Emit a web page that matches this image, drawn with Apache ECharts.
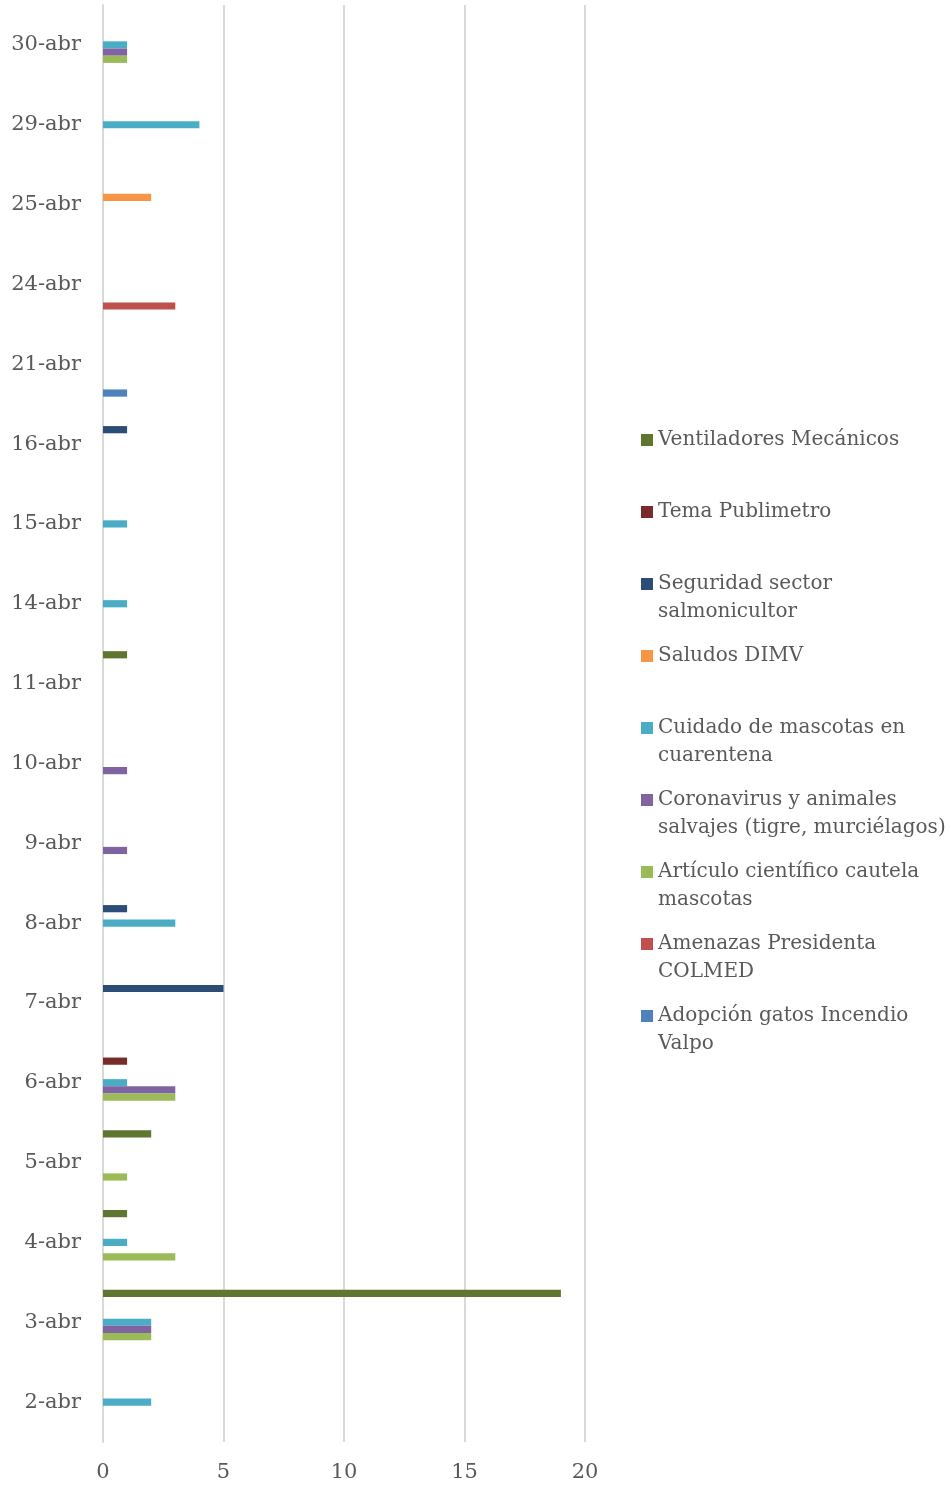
<!DOCTYPE html>
<html>
<head>
<meta charset="utf-8">
<script src="https://cdn.jsdelivr.net/npm/echarts@6/dist/echarts.min.js"></script>
<style>
  html, body { margin: 0; padding: 0; background: #fff; }
  #chart { width: 951px; height: 1485px; }
</style>
</head>
<body>
<div id="chart"></div>
<script>
  // categories bottom -> top
  var days = ['2-abr', '3-abr', '4-abr', '5-abr', '6-abr', '7-abr', '8-abr', '9-abr', '10-abr',
    '11-abr', '14-abr', '15-abr', '16-abr', '21-abr', '24-abr', '25-abr', '29-abr', '30-abr'];
  var xTicks = [0, 5, 10, 15, 20];

  var ventiladores = [0, 19, 1, 2, 0, 0, 0, 0, 0, 1, 0, 0, 0, 0, 0, 0, 0, 0];
  var publimetro   = [0, 0, 0, 0, 1, 0, 0, 0, 0, 0, 0, 0, 0, 0, 0, 0, 0, 0];
  var seguridad    = [0, 0, 0, 0, 0, 5, 1, 0, 0, 0, 0, 0, 1, 0, 0, 0, 0, 0];
  var saludos      = [0, 0, 0, 0, 0, 0, 0, 0, 0, 0, 0, 0, 0, 0, 0, 2, 0, 0];
  var mascotas     = [2, 2, 1, 0, 1, 0, 3, 0, 0, 0, 1, 1, 0, 0, 0, 0, 4, 1];
  var coronavirus  = [0, 2, 0, 0, 3, 0, 0, 1, 1, 0, 0, 0, 0, 0, 0, 0, 0, 1];
  var articulo     = [0, 2, 3, 1, 3, 0, 0, 0, 0, 0, 0, 0, 0, 0, 0, 0, 0, 1];
  var amenazas     = [0, 0, 0, 0, 0, 0, 0, 0, 0, 0, 0, 0, 0, 0, 3, 0, 0, 0];
  var adopcion     = [0, 0, 0, 0, 0, 0, 0, 0, 0, 0, 0, 0, 0, 1, 0, 0, 0, 0];

  var seriesNames = ['Ventiladores Mecánicos', 'Tema Publimetro', 'Seguridad sector salmonicultor',
    'Saludos DIMV', 'Cuidado de mascotas en cuarentena', 'Coronavirus y animales salvajes (tigre, murciélagos)',
    'Artículo científico cautela mascotas', 'Amenazas Presidenta COLMED', 'Adopción gatos Incendio Valpo'];
  // legend text as wrapped in the picture
  var legendLines = [
    ['Ventiladores Mecánicos'],
    ['Tema Publimetro'],
    ['Seguridad sector', 'salmonicultor'],
    ['Saludos DIMV'],
    ['Cuidado de mascotas en', 'cuarentena'],
    ['Coronavirus y animales', 'salvajes (tigre, murciélagos)'],
    ['Artículo científico cautela', 'mascotas'],
    ['Amenazas Presidenta', 'COLMED'],
    ['Adopción gatos Incendio', 'Valpo']
  ];
  var seriesData = [ventiladores, publimetro, seguridad, saludos, mascotas, coronavirus, articulo, amenazas, adopcion];
  var colors = ['#5F7530', '#772C2A', '#2C4D75', '#F79646', '#4BACC6', '#8064A2', '#9BBB59', '#C0504D', '#4F81BD'];

  var font = 'DejaVu Serif';
  var textColor = '#595959';

  var series = [];
  for (var i = 0; i < seriesNames.length; i++) {
    series.push({
      name: seriesNames[i],
      type: 'bar',
      data: seriesData[i],
      barWidth: 7.2,
      barGap: '0%',
      itemStyle: { color: colors[i] },
      emphasis: { disabled: true }
    });
  }

  var chart = echarts.init(document.getElementById('chart'));
  chart.setOption({
    animation: false,
    color: colors,
    grid: { left: 103, right: 366, top: 5, bottom: 43, containLabel: false },
    legend: {
      orient: 'vertical',
      left: 641,
      top: 398,
      padding: 0,
      itemGap: -12,
      itemWidth: 12,
      itemHeight: 12,
      icon: 'rect',
      selectedMode: false,
      data: seriesNames,
      formatter: function (name) {
        // blank first line keeps the icon level with the first text line
        var l = legendLines[seriesNames.indexOf(name)];
        return ' \n' + l[0] + '\n' + (l[1] || ' ');
      },
      textStyle: { fontFamily: font, fontSize: 20, color: textColor, lineHeight: 28 }
    },
    xAxis: {
      type: 'value',
      min: xTicks[0],
      max: xTicks[xTicks.length - 1],
      interval: 5,
      axisLine: { show: false },
      axisTick: { show: false },
      splitLine: { lineStyle: { color: '#D9D9D9', width: 2 } },
      axisLabel: { fontFamily: font, fontSize: 21, color: textColor, margin: 20 }
    },
    yAxis: {
      type: 'category',
      data: days,
      axisLine: { show: true, lineStyle: { color: '#D9D9D9', width: 2 } },
      axisTick: { show: false },
      axisLabel: { fontFamily: font, fontSize: 21, color: textColor, margin: 22 }
    },
    series: series
  });
</script>
</body>
</html>
